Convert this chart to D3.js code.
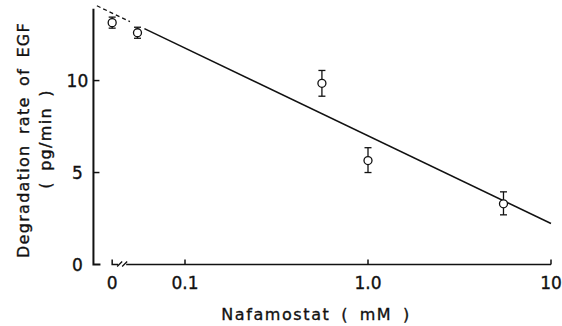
<!DOCTYPE html>
<html>
<head>
<meta charset="utf-8">
<script src="https://cdn.jsdelivr.net/npm/d3@7"></script>
<style>
  body { margin: 0; background: #fff; }
  text { font-family: "DejaVu Sans", sans-serif; fill: #111; stroke: #111; stroke-width: 0.35; }
</style>
</head>
<body>
<script>
// nafamostat concentration (mM), 0 = control on the broken part of the axis
const conc = [0, 0.055, 0.56, 1.0, 5.5];
const rate = [13.15, 12.6, 9.85, 5.65, 3.3];
const errHi = [13.45, 12.9, 10.55, 6.35, 3.95];
const errLo = [12.85, 12.3, 9.15, 5.0, 2.7];

const xTicks = [0.1, 1, 10];
const xTickLabels = ["0.1", "1.0", "10"];
const yTicks = [0, 5, 10];

// fitted line: rate = a + b*log10(conc)
const fitA = 7.0, fitB = -4.77;
const dashedFrom = 0.033, dashedTo = 0.05, solidFrom = 0.06, solidTo = 10;
const zeroAt = 0.04; // where "0" sits on the broken log axis

document.addEventListener("DOMContentLoaded", draw);
function draw() {
  const svg = d3.select("body").append("svg")
    .attr("width", 562)
    .attr("height", 326);

  const x = d3.scaleLog().domain([0.1, 10]).range([185, 551]);
  const y = d3.scaleLinear().domain([0, 14]).range([264.5, 7]);
  const xp = c => c === 0 ? x(zeroAt) : x(c);

  const ink = "#111";

  // y axis with inward ticks
  const yAxisX = x(0.0316);
  svg.append("path")
    .attr("d", `M${yAxisX},${y(13.9)}V${y(0)}H${yAxisX + 7}`)
    .attr("fill", "none").attr("stroke", ink).attr("stroke-width", 2);
  svg.selectAll(".ytick").data(yTicks.slice(1)).enter().append("line")
    .attr("x1", yAxisX).attr("x2", yAxisX + 6)
    .attr("y1", d => y(d)).attr("y2", d => y(d))
    .attr("stroke", ink).attr("stroke-width", 1.5);
  svg.selectAll(".ylab").data(yTicks).enter().append("text")
    .attr("x", yAxisX - 16).attr("y", d => y(d) + 6)
    .attr("text-anchor", "middle").attr("font-size", 17)
    .text(d => d);

  // x axis, broken between 0 and the log part
  const x0 = xp(0), y0 = y(0);
  svg.append("path")
    .attr("d", `M${x0},${y0 - 5}V${y0}H${x0 + 6}`)
    .attr("fill", "none").attr("stroke", ink).attr("stroke-width", 1.5);
  svg.append("path")
    .attr("d", `M${x0 + 5},${y0 + 2}L${x0 + 10},${y0 - 3}M${x0 + 10},${y0 + 2}L${x0 + 15},${y0 - 3}`)
    .attr("fill", "none").attr("stroke", ink).attr("stroke-width", 1.3);
  svg.append("line")
    .attr("x1", x0 + 14).attr("x2", x(10))
    .attr("y1", y0).attr("y2", y0)
    .attr("stroke", ink).attr("stroke-width", 1.5);
  svg.selectAll(".xtick").data(xTicks).enter().append("line")
    .attr("x1", d => x(d)).attr("x2", d => x(d))
    .attr("y1", y0).attr("y2", y0 - 5)
    .attr("stroke", ink).attr("stroke-width", 1.5);
  svg.selectAll(".xlab").data(xTicks).enter().append("text")
    .attr("x", d => x(d)).attr("y", y0 + 24)
    .attr("text-anchor", "middle").attr("font-size", 17)
    .text((d, i) => xTickLabels[i]);
  svg.append("text")
    .attr("x", x0).attr("y", y0 + 24)
    .attr("text-anchor", "middle").attr("font-size", 17)
    .text("0");

  // axis titles
  svg.append("text")
    .attr("x", 316).attr("y", 320)
    .attr("text-anchor", "middle").attr("font-size", 16)
    .attr("letter-spacing", 1.6).attr("word-spacing", 4)
    .text("Nafamostat ( mM )");
  svg.append("text")
    .attr("transform", "translate(29,140) rotate(-90)")
    .attr("text-anchor", "middle").attr("font-size", 16)
    .attr("letter-spacing", 1.3).attr("word-spacing", 4)
    .text("Degradation rate of EGF");
  svg.append("text")
    .attr("transform", "translate(51,139) rotate(-90)")
    .attr("text-anchor", "middle").attr("font-size", 16)
    .attr("letter-spacing", 1.3).attr("word-spacing", 4)
    .text("( pg/min )");

  // regression line
  const fit = c => fitA + fitB * Math.log10(c);
  const line = d3.line().x(c => x(c)).y(c => y(fit(c)));
  svg.append("path")
    .attr("d", line([dashedFrom, dashedTo]))
    .attr("fill", "none").attr("stroke", ink).attr("stroke-width", 1.3)
    .attr("stroke-dasharray", "4,3");
  svg.append("path")
    .attr("d", line([solidFrom, solidTo]))
    .attr("fill", "none").attr("stroke", ink).attr("stroke-width", 1.5);

  // error bars
  const pts = conc.map((c, i) => ({c: c, v: rate[i], hi: errHi[i], lo: errLo[i]}));
  const eb = svg.selectAll(".eb").data(pts).enter().append("g")
    .attr("stroke", ink).attr("stroke-width", 1.3);
  eb.append("line")
    .attr("x1", d => xp(d.c)).attr("x2", d => xp(d.c))
    .attr("y1", d => y(d.hi)).attr("y2", d => y(d.lo));
  eb.append("line")
    .attr("x1", d => xp(d.c) - 3.5).attr("x2", d => xp(d.c) + 3.5)
    .attr("y1", d => y(d.hi)).attr("y2", d => y(d.hi));
  eb.append("line")
    .attr("x1", d => xp(d.c) - 3.5).attr("x2", d => xp(d.c) + 3.5)
    .attr("y1", d => y(d.lo)).attr("y2", d => y(d.lo));

  svg.selectAll(".pt").data(pts).enter().append("circle")
    .attr("cx", d => xp(d.c)).attr("cy", d => y(d.v))
    .attr("r", 4)
    .attr("fill", "#fff").attr("stroke", ink).attr("stroke-width", 1.3);
}
</script>
</body>
</html>
